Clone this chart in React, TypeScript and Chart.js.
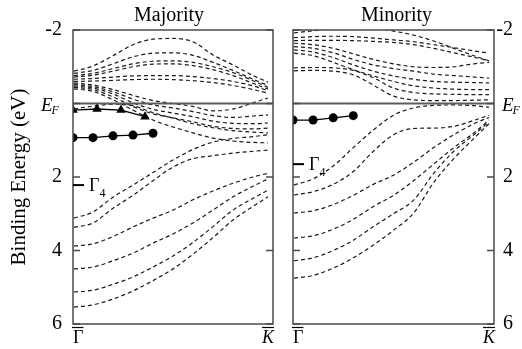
import { useEffect, useRef } from 'react';
import { Chart, registerables } from 'chart.js';

Chart.register(...registerables);

// k along the Γ–K path (0 = Γ, 1 = K) at which every band is sampled
const kPath = [0.005, 0.1, 0.2, 0.3, 0.4, 0.5, 0.6, 0.7, 0.8, 0.9, 0.975];
const energyTicks = [-2, 0, 2, 4, 6];
const fermiLevel = 0;
const pathEnds = [0, 1];

// Majority spin: bands above E_F
const majorityUpper = [
  [-0.88, -1.02, -1.3, -1.6, -1.75, -1.77, -1.68, -1.32, -1.05, -0.76, -0.58],
  [-0.82, -0.9, -1.08, -1.27, -1.37, -1.38, -1.31, -1.12, -0.9, -0.66, -0.49],
  [-0.76, -0.82, -0.95, -1.08, -1.15, -1.16, -1.12, -1.0, -0.84, -0.62, -0.44],
  [-0.72, -0.77, -0.88, -1.0, -1.07, -1.08, -1.03, -0.92, -0.76, -0.55, -0.39],
  [-0.66, -0.68, -0.72, -0.75, -0.76, -0.76, -0.73, -0.68, -0.6, -0.48, -0.35],
  [-0.6, -0.61, -0.63, -0.65, -0.66, -0.65, -0.62, -0.57, -0.49, -0.38, -0.28],
];
// Majority spin: bands crossing E_F
const majorityCrossing = [
  [-0.56, -0.5, -0.38, -0.22, -0.08, 0.0, 0.08, 0.2, 0.15, -0.02, -0.15],
  [-0.52, -0.46, -0.32, -0.12, 0.04, 0.12, 0.22, 0.33, 0.38, 0.34, 0.31],
  [-0.48, -0.42, -0.26, -0.02, 0.16, 0.26, 0.36, 0.48, 0.54, 0.55, 0.53],
  [-0.44, -0.38, -0.18, 0.08, 0.28, 0.39, 0.5, 0.62, 0.68, 0.69, 0.67],
  [-0.4, -0.33, -0.1, 0.18, 0.45, 0.64, 0.8, 0.94, 1.02, 1.06, 1.07],
  [0.15, 0.07, 0.02, 0.06, 0.25, 0.4, 0.55, 0.66, 0.74, 0.78, 0.8],
];
// Majority spin: deeper bands
const majorityLower = [
  [3.12, 2.95, 2.55, 2.22, 1.88, 1.54, 1.25, 1.05, 0.95, 0.9, 0.85],
  [3.37, 3.25, 2.85, 2.5, 2.1, 1.73, 1.5, 1.42, 1.35, 1.3, 1.27],
  [3.88, 3.82, 3.62, 3.36, 3.12, 2.9, 2.62, 2.38, 2.17, 2.0, 1.9],
  [4.5, 4.45, 4.28, 4.07, 3.8, 3.55, 3.25, 2.9, 2.54, 2.25, 2.05],
  [5.13, 5.08, 4.92, 4.72, 4.45, 4.15, 3.78, 3.35, 2.9, 2.58, 2.36],
  [5.54, 5.48, 5.32, 5.1, 4.82, 4.5, 4.1, 3.65, 3.17, 2.8, 2.54],
];

// Minority spin: bands above E_F
const minorityUpper = [
  [-1.92, -1.98, -2.04, -2.08, -2.06, -1.97, -1.86, -1.7, -1.5, -1.3, -1.16],
  [-1.79, -1.82, -1.83, -1.82, -1.78, -1.73, -1.68, -1.6, -1.52, -1.43, -1.37],
  [-1.71, -1.72, -1.72, -1.71, -1.69, -1.66, -1.6, -1.5, -1.38, -1.26, -1.16],
  [-1.64, -1.6, -1.5, -1.35, -1.2, -1.08, -1.0, -0.98, -1.0, -1.08, -1.12],
  [-1.55, -1.5, -1.38, -1.2, -1.05, -0.95, -0.88, -0.8, -0.76, -0.72, -0.69],
  [-1.46, -1.4, -1.25, -1.05, -0.88, -0.75, -0.66, -0.6, -0.58, -0.57, -0.56],
  [-1.37, -1.3, -1.12, -0.92, -0.75, -0.6, -0.48, -0.42, -0.39, -0.38, -0.38],
  [-0.97, -0.98, -0.97, -0.9, -0.7, -0.42, -0.3, -0.26, -0.25, -0.24, -0.24],
  [-0.89, -0.9, -0.88, -0.78, -0.5, -0.2, -0.1, -0.08, -0.08, -0.09, -0.1],
];
// Minority spin: bands below E_F
const minorityLower = [
  [2.22, 2.05, 1.7, 1.2, 0.72, 0.32, 0.12, 0.05, 0.04, 0.06, 0.1],
  [2.49, 2.4, 2.2, 1.85, 1.3, 0.85, 0.68, 0.67, 0.62, 0.46, 0.32],
  [2.98, 2.92, 2.75, 2.5, 2.2, 1.95, 1.6, 1.2, 0.85, 0.55, 0.38],
  [3.66, 3.6, 3.42, 3.15, 2.8, 2.5, 2.1, 1.65, 1.2, 0.8, 0.45],
  [4.28, 4.2, 4.0, 3.72, 3.35, 3.0, 2.63, 1.9, 1.3, 0.85, 0.5],
  [4.75, 4.68, 4.48, 4.2, 3.85, 3.45, 2.98, 2.15, 1.5, 0.95, 0.55],
];

// Measured peaks
const majorityTriangleK = [0, 0.12, 0.24, 0.36];
const majorityTriangleE = [0.18, 0.15, 0.18, 0.36];
const majorityCircleK = [0, 0.1, 0.2, 0.3, 0.4];
const majorityCircleE = [0.93, 0.93, 0.88, 0.86, 0.81];
const minorityCircleK = [0, 0.1, 0.2, 0.3];
const minorityCircleE = [0.45, 0.45, 0.39, 0.33];

// Γ4 level at the zone centre
const majorityGamma4 = 2.22;
const minorityGamma4 = 1.65;

const SERIF = "'Liberation Serif', 'Times New Roman', serif";
const INK = '#000';
const BAND = '#1a1a1a';
const FRAME = '#4a4a4a';

type Side = 'left' | 'right';

const bandSet = (values: number[]) => ({
  data: kPath.map((k, i) => ({ x: k, y: values[i] })),
  borderColor: BAND,
  borderWidth: 1.2,
  borderDash: [4, 3],
  pointRadius: 0,
  cubicInterpolationMode: 'monotone',
  fill: false,
  order: 2,
});

const markerSet = (ks: number[], es: number[], style: string, radius: number) => ({
  data: ks.map((k, i) => ({ x: k, y: es[i] })),
  borderColor: INK,
  borderWidth: 1.3,
  pointStyle: style,
  pointRadius: radius,
  pointBackgroundColor: INK,
  pointBorderColor: INK,
  pointBorderWidth: 0,
  tension: 0,
  fill: false,
  order: 0,
});

const fermiSet = () => ({
  data: pathEnds.map((k) => ({ x: k, y: fermiLevel })),
  borderColor: '#5c5c5c',
  borderWidth: 2,
  pointRadius: 0,
  tension: 0,
  order: 1,
});

function decorPlugin(title: string, side: Side, gamma4: number) {
  return {
    id: 'panelDecor',
    afterDraw(chart: any) {
      const { ctx, chartArea: a } = chart;
      const x = chart.scales.x;
      const y = chart.scales.y;
      const line = (x1: number, y1: number, x2: number, y2: number) => {
        ctx.beginPath();
        ctx.moveTo(x1, y1);
        ctx.lineTo(x2, y2);
        ctx.stroke();
      };
      ctx.save();

      // panel frame with inward ticks on both sides
      ctx.strokeStyle = FRAME;
      ctx.lineWidth = 1.5;
      ctx.strokeRect(a.left, a.top, a.right - a.left, a.bottom - a.top);
      energyTicks.forEach((v) => {
        const py = y.getPixelForValue(v);
        line(a.left, py, a.left + 7, py);
        line(a.right - 7, py, a.right, py);
      });

      // panel title
      ctx.fillStyle = INK;
      ctx.textBaseline = 'alphabetic';
      ctx.textAlign = 'center';
      ctx.font = `20px ${SERIF}`;
      const shift = side === 'left' ? -4 : 3;
      ctx.fillText(title, (a.left + a.right) / 2 + shift, a.top - 9);

      // E_F label on the outer axis
      const fy = y.getPixelForValue(fermiLevel);
      const ex = side === 'left' ? a.left - 32 : a.right + 8;
      ctx.textAlign = 'left';
      ctx.font = `italic 19px ${SERIF}`;
      ctx.fillText('E', ex, fy + 7);
      const ew = ctx.measureText('E').width;
      ctx.font = `italic 12px ${SERIF}`;
      ctx.fillText('F', ex + ew - 1, fy + 10);

      // high-symmetry points with overbars
      const gx = x.getPixelForValue(pathEnds[0]);
      const kx = x.getPixelForValue(pathEnds[1]);
      const by = a.bottom + 19;
      ctx.font = `18px ${SERIF}`;
      ctx.textAlign = 'left';
      ctx.fillText('Γ', gx, by);
      const gw = ctx.measureText('Γ').width;
      ctx.font = `italic 18px ${SERIF}`;
      ctx.textAlign = 'right';
      ctx.fillText('K', kx + 1, by);
      const kw = ctx.measureText('K').width;
      ctx.strokeStyle = INK;
      ctx.lineWidth = 1.2;
      line(gx - 1, a.bottom + 3.5, gx + gw, a.bottom + 3.5);
      line(kx + 1 - kw, a.bottom + 3.5, kx + 1, a.bottom + 3.5);

      // Γ4 marker
      const g4 = y.getPixelForValue(gamma4);
      ctx.lineWidth = 2;
      line(a.left, g4, a.left + 11, g4);
      ctx.font = `18px ${SERIF}`;
      ctx.textAlign = 'left';
      const lx = a.left + 16;
      ctx.fillText('Γ', lx, g4 + 6);
      const lw = ctx.measureText('Γ').width;
      ctx.font = `12px ${SERIF}`;
      ctx.fillText('4', lx + lw, g4 + 12);

      ctx.restore();
    },
  };
}

function buildConfig(side: Side): any {
  const isLeft = side === 'left';
  const datasets: any[] = [];
  if (isLeft) {
    datasets.push(markerSet(majorityTriangleK, majorityTriangleE, 'triangle', 5.5));
    datasets.push(markerSet(majorityCircleK, majorityCircleE, 'circle', 4.5));
  } else {
    datasets.push(markerSet(minorityCircleK, minorityCircleE, 'circle', 4.5));
  }
  datasets.push(fermiSet());
  const bands = isLeft
    ? [...majorityUpper, ...majorityCrossing, ...majorityLower]
    : [...minorityUpper, ...minorityLower];
  bands.forEach((b) => datasets.push(bandSet(b)));

  return {
    type: 'line',
    data: { datasets },
    options: {
      animation: false,
      responsive: false,
      devicePixelRatio: 1,
      layout: {
        padding: isLeft
          ? { top: 30, bottom: 25, left: 0, right: 10 }
          : { top: 30, bottom: 25, left: 10, right: 9 },
      },
      plugins: { legend: { display: false }, tooltip: { enabled: false }, title: { display: false } },
      scales: {
        x: { type: 'linear', min: 0, max: 1, display: false },
        y: {
          type: 'linear',
          min: -2,
          max: 6,
          reverse: true,
          position: side,
          afterFit: (s: any) => {
            s.width = isLeft ? 73 : 19;
          },
          grid: { display: false, drawTicks: false },
          border: { display: false },
          ticks: {
            stepSize: 2,
            padding: isLeft ? 11 : 0,
            crossAlign: isLeft ? 'near' : 'far',
            color: INK,
            font: { family: SERIF, size: 20 },
            callback: (v: number) => (v === fermiLevel ? '' : String(v)),
          },
          title: {
            display: isLeft,
            text: 'Binding Energy (eV)',
            color: INK,
            font: { family: SERIF, size: 21 },
            padding: { top: 7, bottom: 0 },
          },
        },
      },
    },
    plugins: [decorPlugin(isLeft ? 'Majority' : 'Minority', side, isLeft ? majorityGamma4 : minorityGamma4)],
  };
}

export default function App() {
  const leftRef = useRef<HTMLCanvasElement>(null);
  const rightRef = useRef<HTMLCanvasElement>(null);

  useEffect(() => {
    const majority = new Chart(leftRef.current as HTMLCanvasElement, buildConfig('left'));
    const minority = new Chart(rightRef.current as HTMLCanvasElement, buildConfig('right'));
    return () => {
      majority.destroy();
      minority.destroy();
    };
  }, []);

  return (
    <div style={{ position: 'fixed', left: 0, top: 0, width: 522, height: 349, background: '#fff' }}>
      <canvas ref={leftRef} width={283} height={349} style={{ position: 'absolute', left: 0, top: 0 }} />
      <canvas ref={rightRef} width={239} height={349} style={{ position: 'absolute', left: 283, top: 0 }} />
    </div>
  );
}
